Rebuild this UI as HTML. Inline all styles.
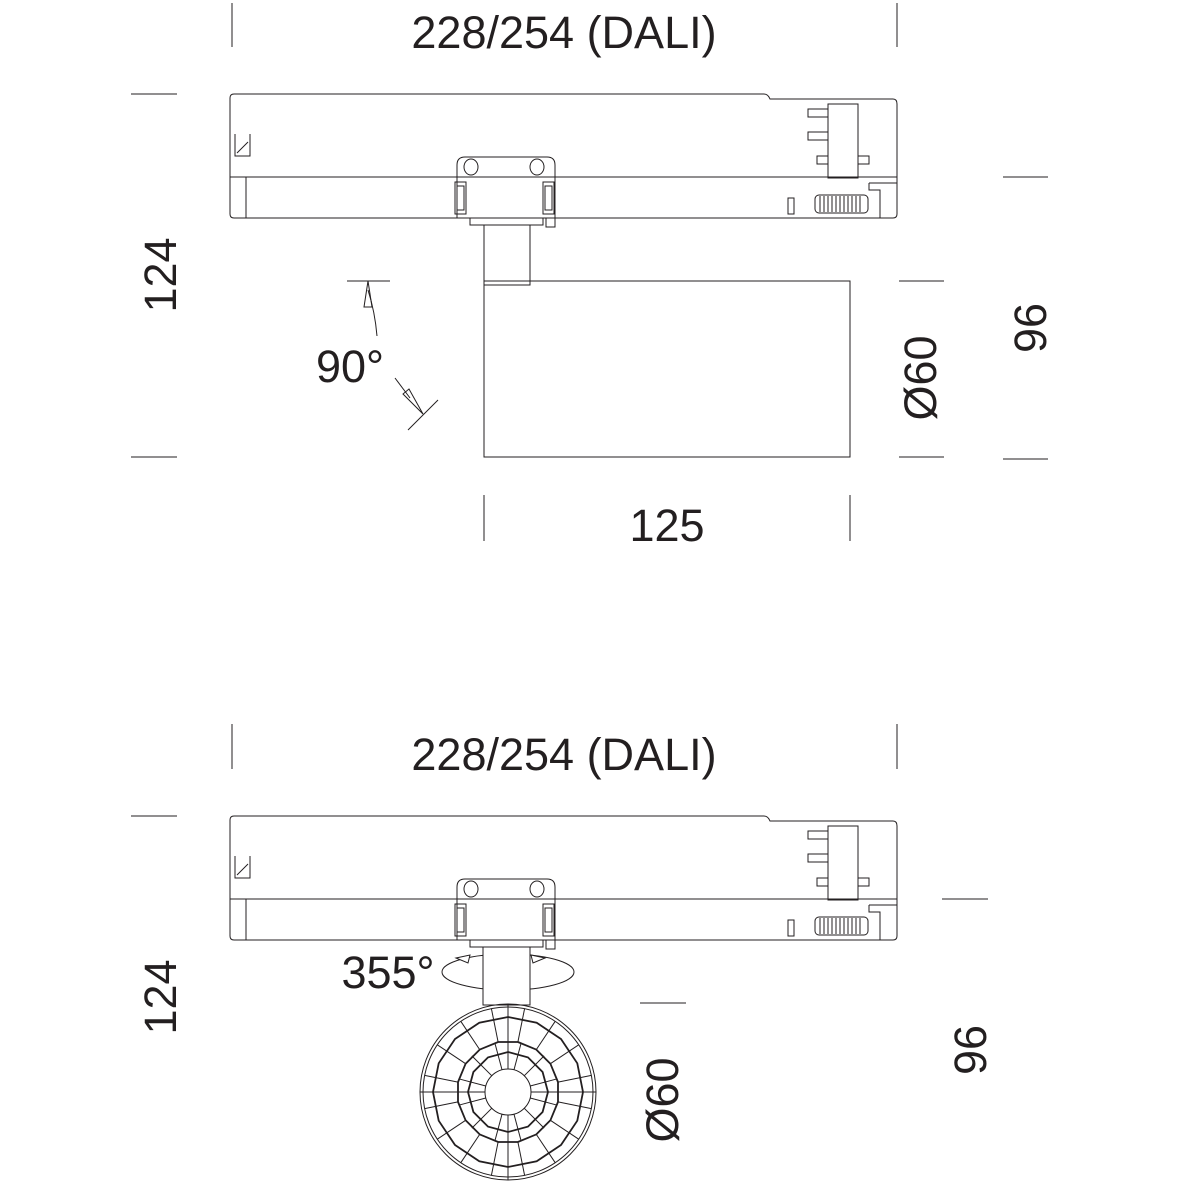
<!DOCTYPE html>
<html><head><meta charset="utf-8"><style>
html,body{margin:0;padding:0;background:#fff}
svg{display:block}
text{font-family:"Liberation Sans",sans-serif;font-size:45px;fill:#231f20}
</style></head><body>
<svg id="s" width="1181" height="1181" viewBox="0 0 1181 1181" xmlns="http://www.w3.org/2000/svg">
<g stroke="#231f20" fill="none" stroke-width="1">
<line x1="232" y1="3" x2="232" y2="47"/><line x1="897" y1="3" x2="897" y2="47"/>
<line x1="131" y1="94" x2="177" y2="94"/><line x1="131" y1="457" x2="177" y2="457"/>
<line x1="1003" y1="177" x2="1048" y2="177"/><line x1="1003" y1="459" x2="1048" y2="459"/>
<line x1="899" y1="281" x2="944" y2="281"/><line x1="899" y1="457" x2="944" y2="457"/>
<line x1="484" y1="495" x2="484" y2="541"/><line x1="850" y1="495" x2="850" y2="541"/>
<line x1="232" y1="724" x2="232" y2="769"/><line x1="897" y1="724" x2="897" y2="769"/>
<line x1="131" y1="816" x2="177" y2="816"/>
<line x1="942" y1="899" x2="988" y2="899"/>
<line x1="640" y1="1003" x2="686" y2="1003"/>
<line x1="347" y1="281" x2="390" y2="281"/>
<path d="M368 281 L364 307 L372 307 Z"/>
<path d="M368 290 Q375 312 377 336"/>
<line x1="408" y1="430" x2="438" y2="400"/>
<path d="M423 414 L403 394 L409 389 Z"/>
<line x1="395" y1="378" x2="410" y2="398"/>
<rect x="484" y="225" width="46" height="60"/>
<rect x="484" y="281" width="366" height="176"/>
</g>
<g id="track" stroke="#231f20" fill="none" stroke-width="1">
<path d="M234 94 H764 Q768 94 770 99 H893 Q897 99 897 104 V214 Q897 218 893 218 H234 Q230 218 230 214 V98 Q230 94 234 94 Z"/>
<line x1="230" y1="177" x2="897" y2="177"/>
<line x1="246" y1="177" x2="246" y2="218"/>
<path d="M235 134 V156 H250 V134"/><line x1="237" y1="153" x2="248" y2="142"/>
<path d="M457 218 V165 Q457 157 465 157 H547 Q555 157 555 165 V218"/>
<ellipse cx="471" cy="167" rx="7" ry="8"/><ellipse cx="537" cy="167" rx="7" ry="8"/>
<rect x="455" y="182" width="11" height="32"/><rect x="457" y="186" width="7" height="24"/>
<rect x="543" y="182" width="11" height="32"/><rect x="545" y="186" width="7" height="24"/>
<rect x="470" y="218" width="73" height="7"/>
<rect x="546" y="218" width="9" height="9"/>
<rect x="828" y="104" width="30" height="74"/>
<rect x="808" y="109" width="20" height="8"/><rect x="808" y="132" width="20" height="8"/><rect x="817" y="156" width="11" height="8"/><rect x="858" y="156" width="11" height="8"/>
<path d="M869 183 H897 M869 183 V190 H880 V218"/>
<rect x="788" y="198" width="6" height="16"/>
<rect x="815" y="195" width="53" height="18" rx="4"/>
<path d="M820 196 V212 M824 196 V212 M828 196 V212 M832 196 V212 M836 196 V212 M840 196 V212 M844 196 V212 M848 196 V212 M852 196 V212 M856 196 V212 M860 196 V212"/>
</g>
<use href="#track" transform="translate(0,722)"/>
<g stroke="#231f20" fill="none" stroke-width="1">
<ellipse cx="508" cy="972" rx="66" ry="18"/>
<rect x="483" y="947" width="47" height="58" fill="#fff"/>
<path d="M483 960 V1005 H530 V960"/>
<path d="M456 958 L470 955 L468 963 Z" fill="#fff"/>
<path d="M545 958 L531 955 L533 963 Z" fill="#fff"/>
<circle cx="508" cy="1092" r="88"/><circle cx="508" cy="1092" r="85"/>
<g id="rose"></g>
<circle cx="508" cy="1092" r="23" fill="#fff"/>
</g>
<text x="564" y="48" text-anchor="middle">228/254 (DALI)</text>
<text x="564" y="770" text-anchor="middle">228/254 (DALI)</text>
<text x="667" y="541" text-anchor="middle">125</text>
<text x="350" y="382" text-anchor="middle">90°</text>
<text x="388" y="988" text-anchor="middle">355°</text>
<text transform="translate(176,275) rotate(-90)" text-anchor="middle">124</text>
<text transform="translate(176,997) rotate(-90)" text-anchor="middle">124</text>
<text transform="translate(1046,328) rotate(-90)" text-anchor="middle">96</text>
<text transform="translate(986,1050) rotate(-90)" text-anchor="middle">96</text>
<text transform="translate(936,378) rotate(-90)" text-anchor="middle">Ø60</text>
<text transform="translate(678,1100) rotate(-90)" text-anchor="middle">Ø60</text>
</svg>
<script>
(function(){
var g=document.getElementById('rose'),cx=508,cy=1092,h="";
function poly(r,n,w,off){var p=[];for(var i=0;i<n;i++){var a=(i+off)*2*Math.PI/n;p.push((cx+r*Math.sin(a)).toFixed(1)+","+(cy-r*Math.cos(a)).toFixed(1));}
h+='<polygon points="'+p.join(" ")+'" stroke-width="'+w+'"/>';}
poly(75,16,1.8,0);poly(51,16,1.8,0.5);poly(40,12,1.8,0);
function rad(n,r0,r1,off){for(var i=0;i<n;i++){var a=(i+off)*2*Math.PI/n;
h+='<line x1="'+(cx+r0*Math.sin(a)).toFixed(1)+'" y1="'+(cy-r0*Math.cos(a)).toFixed(1)+'" x2="'+(cx+r1*Math.sin(a)).toFixed(1)+'" y2="'+(cy-r1*Math.cos(a)).toFixed(1)+'"/>';}}
rad(16,51,85,0.5);rad(12,23,51,0.5);
h+='<line x1="420" y1="1092" x2="596" y2="1092"/><line x1="508" y1="1004" x2="508" y2="1180"/>';
g.innerHTML=h;
})();
</script>
</body></html>
